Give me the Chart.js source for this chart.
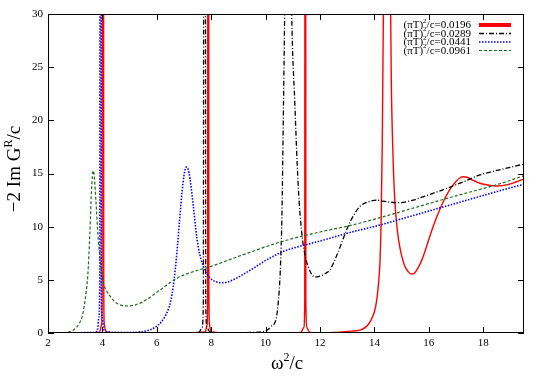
<!DOCTYPE html>
<html>
<head>
<meta charset="utf-8">
<script src="https://cdn.jsdelivr.net/npm/chart.js@4/dist/chart.umd.min.js"></script>
<style>
html,body{margin:0;padding:0;background:#fff;}
#wrap{width:545px;height:382px;position:relative;}
</style>
</head>
<body>
<div id="wrap"><canvas id="c" width="545" height="382"></canvas></div>
<script>
// ---- data ----
const xTicks = [2, 4, 6, 8, 10, 12, 14, 16, 18];
const yTicks = [0, 5, 10, 15, 20, 25, 30];
const seriesLabels = ["0.0196", "0.0289", "0.0441", "0.0961"];

const redPts = [[2,0],[3.8,0.02],[3.9,0.1],[3.97,0.8],[3.99,4],[4.005,80],[4.035,80],[4.05,4],[4.07,0.8],[4.15,0.1],[4.6,0.02],
 [7.2,0.02],[7.78,0.1],[7.85,0.8],[7.87,4],[7.882,80],[7.902,80],[7.915,4],[7.935,0.8],[8.0,0.1],[8.6,0.02],
 [11.1,0.02],[11.3,0.05],[11.4,0.5],[11.44,3],[11.452,80],[11.468,80],[11.48,3],[11.52,0.5],[11.62,0.05],
 [12.0,0.03],[12.5,0.05],[13.0,0.15],[13.5,0.3],[13.7,0.6],[13.85,1.1],[14.0,2.0],[14.08,3.0],[14.15,4.6],[14.21,7.0],
 [14.25,11],[14.29,18],[14.33,30],[14.38,50],[14.45,70],[14.53,50],[14.58,35],[14.62,24],[14.68,17],[14.75,12.5],
 [14.85,9.5],[14.94,8.0],[15.1,6.4],[15.25,5.75],[15.37,5.55],[15.47,5.62],[15.6,6.1],[15.75,6.9],[15.9,8.0],
 [16.05,9.2],[16.2,10.3],[16.4,11.6],[16.6,12.7],[16.8,13.6],[17.0,14.25],[17.15,14.6],[17.27,14.7],[17.4,14.65],
 [17.6,14.4],[17.88,14.08],[18.2,13.9],[18.5,13.83],[18.9,13.95],[19.2,14.2],[19.5,14.5]];

const blackPts = [[2,0],[7.4,0.02],[7.55,0.05],[7.66,0.5],[7.71,2.5],[7.735,80],[7.775,80],[7.80,2.5],[7.85,0.5],[7.95,0.1],
 [8.5,0.03],[9.5,0.05],[10.0,0.2],[10.2,0.6],[10.4,1.5],[10.5,4],[10.55,6.5],[10.6,11],[10.65,20],[10.7,30],[10.76,45],
 [10.84,55],[10.9,42],[10.96,30],[11.07,21.9],[11.2,13.8],[11.33,9.4],[11.45,7.3],[11.57,6.2],[11.7,5.5],[11.82,5.25],
 [12.0,5.35],[12.2,5.6],[12.37,5.95],[12.6,7.2],[12.8,8.5],[12.98,9.7],[13.2,10.9],[13.47,11.9],[13.8,12.35],[14.08,12.5],
 [14.3,12.4],[14.6,12.3],[14.94,12.26],[15.2,12.35],[15.43,12.5],[16.0,13.0],[16.66,13.6],[17.3,14.25],[17.88,14.86],
 [18.6,15.35],[19.35,15.8],[19.5,15.9]];

const bluePts = [[2,0],[3.7,0.05],[3.82,0.3],[3.87,1.5],[3.905,5],[3.92,80],[3.945,80],[3.96,5],[3.99,1.5],[4.05,0.3],
 [4.3,0.08],[5.0,0.05],[5.5,0.15],[5.8,0.35],[6.0,0.65],[6.15,1.0],[6.3,1.55],[6.42,2.2],[6.52,3.1],[6.6,4.3],[6.68,6.0],
 [6.76,8.2],[6.85,11.0],[6.93,13.3],[7.0,14.8],[7.08,15.6],[7.15,15.4],[7.22,14.5],[7.34,12],[7.47,9.0],[7.59,7.3],
 [7.77,5.9],[7.95,5.2],[8.1,4.9],[8.35,4.73],[8.6,4.8],[8.81,5.0],[9.1,5.4],[9.43,5.9],[9.75,6.42],[10.04,6.88],
 [10.35,7.3],[10.65,7.68],[11.26,8.15],[12.0,8.65],[13.1,9.45],[14.21,10.16],[15.5,11.1],[17.0,12.2],[18.5,13.3],[19.5,14.0]];

const greenPts = [[2,0],[2.4,0.02],[2.78,0.12],[3.0,0.4],[3.15,0.9],[3.25,1.5],[3.33,2.5],[3.4,3.8],[3.46,5.3],[3.54,9.4],
 [3.6,13.45],[3.66,15.27],[3.71,14.5],[3.76,12.5],[3.85,8.75],[3.95,6.24],[4.03,4.8],[4.15,4.0],[4.3,3.4],[4.53,2.8],
 [4.89,2.54],[5.2,2.65],[5.5,2.95],[6.12,4.05],[6.73,5.14],[7.34,5.77],[7.96,6.24],[9.0,7.2],[10.6,8.6],[12.0,9.5],
 [13.1,10.1],[14.21,10.85],[15.5,11.8],[17.0,12.9],[18.5,13.95],[19.5,14.8]];

// ---- styling ----
const FONT = "'Liberation Serif', 'DejaVu Serif', serif";
const styles = [
  {color:'#ff0000', width:1.4, dash:[], legendWidth:4},
  {color:'#000000', width:1.3, dash:[5,2,1,2], legendWidth:1.3},
  {color:'#0000ff', width:1.6, dash:[1.5,1.5], legendWidth:1.6},
  {color:'#1e6b1e', width:1.2, dash:[3,2], legendWidth:1.2}
];
const allPts = [redPts, blackPts, bluePts, greenPts];
const toXY = pts => pts.map(p => ({x:p[0], y:p[1]}));

const datasets = allPts.map((pts, i) => ({
  label: seriesLabels[i],
  data: toXY(pts),
  borderColor: styles[i].color,
  borderWidth: styles[i].width,
  borderDash: styles[i].dash,
  pointRadius: 0,
  fill: false,
  cubicInterpolationMode: 'monotone',
  order: 4 - i
}));

function drawRich(ctx, parts, x, y, size, align) {
  const subSize = Math.round(size * 0.62);
  let total = 0;
  const widths = parts.map(p => {
    ctx.font = (p.sup ? subSize : size) + 'px ' + FONT;
    const w = ctx.measureText(p.t).width;
    total += w;
    return w;
  });
  let cx = align === 'center' ? x - total / 2 : (align === 'right' ? x - total : x);
  parts.forEach((p, i) => {
    ctx.font = (p.sup ? subSize : size) + 'px ' + FONT;
    ctx.fillText(p.t, cx, p.sup ? y - size * 0.42 : y);
    cx += widths[i];
  });
}

const deco = {
  id: 'deco',
  afterDraw(chart) {
    const ctx = chart.ctx, a = chart.chartArea;
    const xs = chart.scales.x, ys = chart.scales.y;
    ctx.save();
    // frame
    ctx.strokeStyle = '#000';
    ctx.lineWidth = 1;
    ctx.setLineDash([]);
    ctx.strokeRect(Math.round(a.left) + 0.5, Math.round(a.top) + 0.5,
                   Math.round(a.right - a.left) - 1, Math.round(a.bottom - a.top) - 1);
    // inward ticks on all four sides
    const TL = 6;
    ctx.beginPath();
    xTicks.forEach(v => {
      const px = Math.round(xs.getPixelForValue(v)) + 0.5;
      ctx.moveTo(px, a.bottom); ctx.lineTo(px, a.bottom - TL);
      ctx.moveTo(px, a.top); ctx.lineTo(px, a.top + TL);
    });
    yTicks.forEach(v => {
      const py = Math.round(ys.getPixelForValue(v)) + 0.5;
      ctx.moveTo(a.left, py); ctx.lineTo(a.left + TL, py);
      ctx.moveTo(a.right, py); ctx.lineTo(a.right - TL, py);
    });
    ctx.stroke();

    // axis titles
    ctx.fillStyle = '#000';
    ctx.textBaseline = 'alphabetic';
    drawRich(ctx, [{t:'ω'}, {t:'2', sup:true}, {t:'/c'}], 287, 369, 19, 'center');
    ctx.save();
    ctx.translate(20, 169);
    ctx.rotate(-Math.PI / 2);
    drawRich(ctx, [{t:'−2 Im G'}, {t:'R', sup:true}, {t:'/c'}], 0, 0, 19, 'center');
    ctx.restore();

    // legend
    const rowY = [25, 33.5, 42, 50.5];
    ctx.textBaseline = 'middle';
    seriesLabels.forEach((lab, i) => {
      const y = rowY[i];
      ctx.fillStyle = '#000';
      drawRich(ctx, [{t:'(πT)'}, {t:'2', sup:true}, {t:'/c=' + lab}], 471, y + 0.5, 11, 'right');
      ctx.beginPath();
      ctx.strokeStyle = styles[i].color;
      ctx.lineWidth = styles[i].legendWidth;
      ctx.setLineDash(styles[i].dash);
      ctx.moveTo(479, y);
      ctx.lineTo(511, y);
      ctx.stroke();
    });
    ctx.restore();
  }
};

new Chart(document.getElementById('c'), {
  type: 'line',
  data: { datasets },
  options: {
    responsive: false,
    animation: false,
    events: [],
    layout: { padding: { left: 0, right: 21, top: 14, bottom: 0 } },
    plugins: { legend: { display: false }, tooltip: { enabled: false } },
    scales: {
      x: {
        type: 'linear', min: 2, max: 19.5,
        grid: { display: false, drawTicks: false },
        border: { display: false },
        afterBuildTicks: s => { s.ticks = xTicks.map(v => ({ value: v })); },
        afterFit: s => { s.height = 49; },
        ticks: { color: '#000', font: { family: FONT, size: 11 }, padding: 4, maxRotation: 0, autoSkip: false }
      },
      y: {
        type: 'linear', min: 0, max: 30,
        grid: { display: false, drawTicks: false },
        border: { display: false },
        afterBuildTicks: s => { s.ticks = yTicks.map(v => ({ value: v })); },
        afterFit: s => { s.width = 48; },
        ticks: { color: '#000', font: { family: FONT, size: 11 }, padding: 5, autoSkip: false }
      }
    }
  },
  plugins: [deco]
});
</script>
</body>
</html>
